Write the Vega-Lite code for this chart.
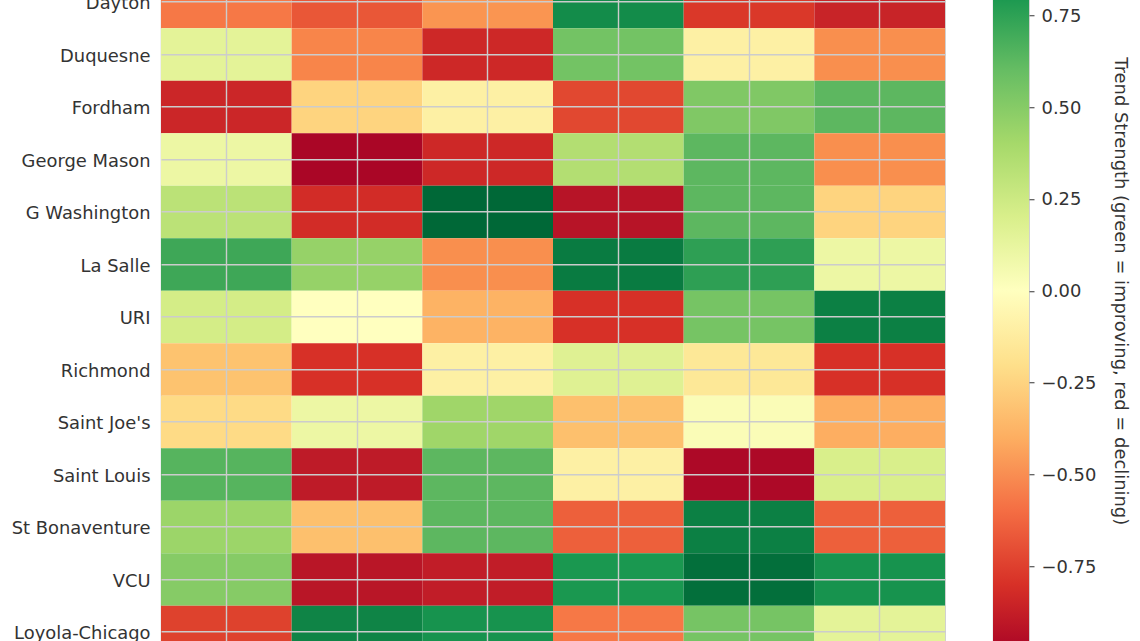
{
  "$schema": "https://vega.github.io/schema/vega-lite/v6.json",
  "padding": {"left": 0, "top": -77.75, "right": 0, "bottom": 0},
  "background": "white",
  "config": {
    "font": "DejaVu Sans",
    "view": {"stroke": "#cccccc", "strokeWidth": 1.2},
    "axis": {"labelColor": "#333333", "titleColor": "#333333", "labelFontSize": 17.9, "titleFontSize": 17.9, "labelFontWeight": "normal", "titleFontWeight": "normal"}
  },
  "spacing": 46,
  "hconcat": [
    {
      "width": 784,
      "height": 735,
      "data": {
        "values": [
          {"team":"Dayton","col":"c1","trend":-0.57},{"team":"Dayton","col":"c2","trend":-0.68},{"team":"Dayton","col":"c3","trend":-0.48},{"team":"Dayton","col":"c4","trend":0.85},{"team":"Dayton","col":"c5","trend":-0.78},{"team":"Dayton","col":"c6","trend":-0.86},
          {"team":"Duquesne","col":"c1","trend":0.15},{"team":"Duquesne","col":"c2","trend":-0.53},{"team":"Duquesne","col":"c3","trend":-0.84},{"team":"Duquesne","col":"c4","trend":0.56},{"team":"Duquesne","col":"c5","trend":-0.1},{"team":"Duquesne","col":"c6","trend":-0.5},
          {"team":"Fordham","col":"c1","trend":-0.85},{"team":"Fordham","col":"c2","trend":-0.25},{"team":"Fordham","col":"c3","trend":-0.1},{"team":"Fordham","col":"c4","trend":-0.73},{"team":"Fordham","col":"c5","trend":0.52},{"team":"Fordham","col":"c6","trend":0.63},
          {"team":"George Mason","col":"c1","trend":0.1},{"team":"George Mason","col":"c2","trend":-0.98},{"team":"George Mason","col":"c3","trend":-0.84},{"team":"George Mason","col":"c4","trend":0.35},{"team":"George Mason","col":"c5","trend":0.63},{"team":"George Mason","col":"c6","trend":-0.5},
          {"team":"G Washington","col":"c1","trend":0.32},{"team":"G Washington","col":"c2","trend":-0.82},{"team":"G Washington","col":"c3","trend":1.0},{"team":"G Washington","col":"c4","trend":-0.93},{"team":"G Washington","col":"c5","trend":0.63},{"team":"G Washington","col":"c6","trend":-0.25},
          {"team":"La Salle","col":"c1","trend":0.72},{"team":"La Salle","col":"c2","trend":0.45},{"team":"La Salle","col":"c3","trend":-0.5},{"team":"La Salle","col":"c4","trend":0.92},{"team":"La Salle","col":"c5","trend":0.76},{"team":"La Salle","col":"c6","trend":0.1},
          {"team":"URI","col":"c1","trend":0.22},{"team":"URI","col":"c2","trend":0.0},{"team":"URI","col":"c3","trend":-0.38},{"team":"URI","col":"c4","trend":-0.8},{"team":"URI","col":"c5","trend":0.55},{"team":"URI","col":"c6","trend":0.9},
          {"team":"Richmond","col":"c1","trend":-0.32},{"team":"Richmond","col":"c2","trend":-0.8},{"team":"Richmond","col":"c3","trend":-0.1},{"team":"Richmond","col":"c4","trend":0.17},{"team":"Richmond","col":"c5","trend":-0.15},{"team":"Richmond","col":"c6","trend":-0.8},
          {"team":"Saint Joe's","col":"c1","trend":-0.22},{"team":"Saint Joe's","col":"c2","trend":0.1},{"team":"Saint Joe's","col":"c3","trend":0.42},{"team":"Saint Joe's","col":"c4","trend":-0.33},{"team":"Saint Joe's","col":"c5","trend":0.03},{"team":"Saint Joe's","col":"c6","trend":-0.4},
          {"team":"Saint Louis","col":"c1","trend":0.65},{"team":"Saint Louis","col":"c2","trend":-0.9},{"team":"Saint Louis","col":"c3","trend":0.63},{"team":"Saint Louis","col":"c4","trend":-0.1},{"team":"Saint Louis","col":"c5","trend":-0.97},{"team":"Saint Louis","col":"c6","trend":0.2},
          {"team":"St Bonaventure","col":"c1","trend":0.43},{"team":"St Bonaventure","col":"c2","trend":-0.33},{"team":"St Bonaventure","col":"c3","trend":0.63},{"team":"St Bonaventure","col":"c4","trend":-0.65},{"team":"St Bonaventure","col":"c5","trend":0.9},{"team":"St Bonaventure","col":"c6","trend":-0.65},
          {"team":"VCU","col":"c1","trend":0.5},{"team":"VCU","col":"c2","trend":-0.92},{"team":"VCU","col":"c3","trend":-0.89},{"team":"VCU","col":"c4","trend":0.8},{"team":"VCU","col":"c5","trend":0.97},{"team":"VCU","col":"c6","trend":0.82},
          {"team":"Loyola-Chicago","col":"c1","trend":-0.75},{"team":"Loyola-Chicago","col":"c2","trend":0.88},{"team":"Loyola-Chicago","col":"c3","trend":0.82},{"team":"Loyola-Chicago","col":"c4","trend":-0.57},{"team":"Loyola-Chicago","col":"c5","trend":0.55},{"team":"Loyola-Chicago","col":"c6","trend":0.15}
        ]
      },
      "mark": "rect",
      "encoding": {
        "x": {
          "field": "col",
          "type": "nominal",
          "title": null,
          "scale": {"paddingInner": 0, "paddingOuter": 0},
          "axis": {"labels": false, "ticks": false, "domain": false, "grid": true, "gridColor": "#cccccc", "gridWidth": 1.4, "zindex": 1}
        },
        "y": {
          "field": "team",
          "type": "nominal",
          "title": null,
          "scale": {
            "domain": ["", "Dayton", "Duquesne", "Fordham", "George Mason", "G Washington", "La Salle", "URI", "Richmond", "Saint Joe's", "Saint Louis", "St Bonaventure", "VCU", "Loyola-Chicago"],
            "paddingInner": 0,
            "paddingOuter": 0
          },
          "axis": {"ticks": false, "domain": false, "grid": true, "gridColor": "#cccccc", "gridWidth": 1.4, "zindex": 1, "labelPadding": 11, "labelOffset": 2, "labelLimit": 160, "minExtent": 160, "maxExtent": 160}
        },
        "color": {
          "field": "trend",
          "type": "quantitative",
          "legend": null,
          "scale": {
            "domain": [-1, -0.8, -0.6, -0.4, -0.2, 0, 0.2, 0.4, 0.6, 0.8, 1],
            "range": ["#a50026", "#d73027", "#f46d43", "#fdae61", "#fee08b", "#ffffbf", "#d9ef8b", "#a6d96a", "#66bd63", "#1a9850", "#006837"]
          }
        }
      }
    },
    {
      "width": 36,
      "height": 735,
      "data": {"values": [{"low": -1, "high": 1}]},
      "mark": {
        "type": "rect",
        "color": {
          "gradient": "linear", "x1": 0, "y1": 1, "x2": 0, "y2": 0,
          "stops": [
            {"offset": 0, "color": "#a50026"}, {"offset": 0.1, "color": "#d73027"}, {"offset": 0.2, "color": "#f46d43"},
            {"offset": 0.3, "color": "#fdae61"}, {"offset": 0.4, "color": "#fee08b"}, {"offset": 0.5, "color": "#ffffbf"},
            {"offset": 0.6, "color": "#d9ef8b"}, {"offset": 0.7, "color": "#a6d96a"}, {"offset": 0.8, "color": "#66bd63"},
            {"offset": 0.9, "color": "#1a9850"}, {"offset": 1, "color": "#006837"}
          ]
        }
      },
      "encoding": {
        "y": {
          "field": "low",
          "type": "quantitative",
          "scale": {"domain": [-1, 1], "nice": false, "zero": false},
          "axis": {
            "orient": "right",
            "title": "Trend Strength (green = improving, red = declining)",
            "titleAngle": 90,
            "titlePadding": 15,
            "values": [-0.75, -0.5, -0.25, 0, 0.25, 0.5, 0.75],
            "labelExpr": "replace(format(datum.value, '.2f'), '-', '−')",
            "grid": false,
            "domain": false,
            "tickColor": "#333333",
            "tickSize": 5,
            "labelPadding": 7,
            "labelOffset": 1,
            "labelAlign": "left"
          }
        },
        "y2": {"field": "high"}
      }
    }
  ]
}
